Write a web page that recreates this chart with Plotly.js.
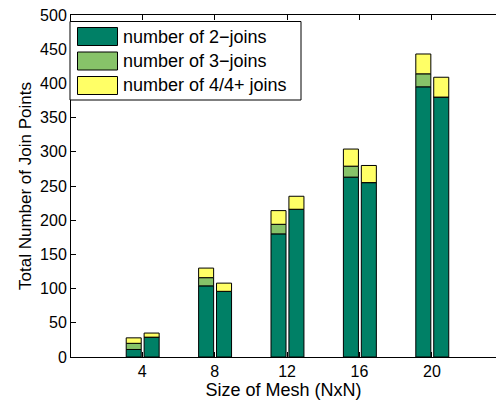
<!DOCTYPE html>
<html>
<head>
<meta charset="utf-8">
<script src="https://cdn.plot.ly/plotly-3.0.1.min.js"></script>
<style>html,body{margin:0;padding:0;background:#fff;}#chart{width:496px;height:403px;}</style>
</head>
<body>
<div id="chart"></div>
<script>
// Mesh sizes (categories)
var meshSizes = [4, 8, 12, 16, 20];
// Left bar of each pair
var leftTwoJoins   = [11, 104, 180, 263, 395];
var leftThreeJoins = [9, 12, 14, 16, 19];
var leftFourJoins  = [8, 14, 20, 25, 29];
// Right bar of each pair
var rightTwoJoins   = [29, 96, 216, 255, 380];
var rightThreeJoins = [0, 0, 0, 0, 0];
var rightFourJoins  = [6, 12, 19, 25, 29];

var seriesNames = ['number of 2\u2212joins', 'number of 3\u2212joins', 'number of 4/4+ joins'];
var colors = ['#008066', '#87c369', '#ffff66'];

var FONT = 'Liberation Sans, Arial, Helvetica, sans-serif';
var W = 496, H = 403, ML = 71, MR = 0, MT = 15, MB = 46;
var PW = W - ML - MR, PH = H - MT - MB;

function add(a, b) { return a.map(function (v, i) { return v + b[i]; }); }
function zeros(n) { var r = []; for (var i = 0; i < n; i++) r.push(0); return r; }

function stackTraces(parts, offset) {
  var traces = [];
  var base = zeros(meshSizes.length);
  parts.forEach(function (vals, k) {
    traces.push({
      type: 'bar', x: meshSizes, y: vals, base: base.slice(),
      offset: offset, width: 0.83,
      marker: { color: colors[k], line: { color: '#000', width: 1 } },
      showlegend: false, hoverinfo: 'y'
    });
    base = add(base, vals);
  });
  return traces;
}

var data = []
  .concat(stackTraces([leftTwoJoins, leftThreeJoins, leftFourJoins], -0.89))
  .concat(stackTraces([rightTwoJoins, rightThreeJoins, rightFourJoins], 0.10));

// custom legend (pixel -> paper)
function px(x) { return (x - ML) / PW; }
function py(y) { return (H - MB - y) / PH; }
var shapes = [{
  type: 'rect', xref: 'paper', yref: 'paper',
  x0: px(70), x1: px(301), y0: py(100), y1: py(21.5),
  fillcolor: '#fff', line: { color: '#000', width: 1 }, layer: 'above'
}];
var annotations = [];
var rowTop = [27.5, 52, 76.5];
seriesNames.forEach(function (name, k) {
  shapes.push({
    type: 'rect', xref: 'paper', yref: 'paper',
    x0: px(77.5), x1: px(117.5), y0: py(rowTop[k] + 18), y1: py(rowTop[k]),
    fillcolor: colors[k], line: { color: '#000', width: 1 }, layer: 'above'
  });
  annotations.push({
    xref: 'paper', yref: 'paper', x: px(121), y: py(rowTop[k] + 9),
    xanchor: 'left', yanchor: 'middle', showarrow: false,
    text: name, font: { family: FONT, size: 18, color: '#000' }
  });
});

var layout = {
  width: W, height: H,
  margin: { l: ML, r: MR, t: MT, b: MB, pad: 0 },
  paper_bgcolor: '#fff', plot_bgcolor: '#fff',
  barmode: 'overlay',
  showlegend: false,
  xaxis: {
    range: [0.06, 0.06 + PW / 18.1],
    tickvals: meshSizes, ticktext: meshSizes.map(String),
    ticks: 'inside', ticklen: 5, tickcolor: '#000', tickwidth: 1,
    showline: true, linecolor: '#000', linewidth: 1, mirror: 'ticks',
    showgrid: false, zeroline: false,
    tickfont: { family: FONT, size: 16, color: '#000' },
    title: { text: 'Size of Mesh (NxN)', font: { family: FONT, size: 18, color: '#000' }, standoff: 4 }
  },
  yaxis: {
    range: [0, 500], dtick: 50, tick0: 0,
    ticks: 'inside', ticklen: 5, tickcolor: '#000', tickwidth: 1,
    showline: true, linecolor: '#000', linewidth: 1, mirror: false,
    showgrid: false, zeroline: false,
    tickfont: { family: FONT, size: 16, color: '#000' },
    title: { text: 'Total Number of Join Points', font: { family: FONT, size: 17, color: '#000' }, standoff: 4 }
  },
  shapes: shapes,
  annotations: annotations
};

Plotly.newPlot('chart', data, layout, { displayModeBar: false, staticPlot: true });
</script>
</body>
</html>
